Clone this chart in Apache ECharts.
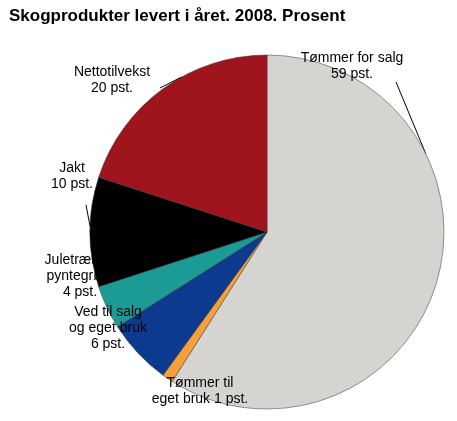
<!DOCTYPE html>
<html><head><meta charset="utf-8">
<script src="https://cdn.jsdelivr.net/npm/echarts@6/dist/echarts.min.js"></script>
<style>html,body{margin:0;padding:0;background:#fff}#c{width:457px;height:421px}</style>
</head><body><div id="c"></div>
<script>
const categories = ["Tømmer for salg\n59 pst.", "Tømmer til\neget bruk 1 pst.", "Ved til salg\nog eget bruk\n6 pst.", "Juletrær og\npyntegrønt\n4 pst.", "Jakt\n10 pst.", "Nettotilvekst\n20 pst."];
const values = [59, 1, 6, 4, 10, 20];
const colors = ["#d5d4d0", "#f5a03a", "#0b3a8e", "#1c9a96", "#000000", "#a0141e"];
const labelPos = [[352,66],[200,391],[108,328],[80,276],[72,176],[112,80]];
const lineEnd = [[396,82],[185,366],[150,308],[122,293],[86,205],[160,88]];
const edgeFrac = [0.3,0.5,0.7,0.5,0.55,0.6];
const C=[267,232], R=177;
const total = values.reduce((a,b)=>a+b,0);
const chart = echarts.init(document.getElementById('c'));
chart.setOption({
  animation:false,
  title:{text:"Skogprodukter levert i året. 2008. Prosent",left:4,top:3,textStyle:{fontFamily:"Liberation Sans",fontSize:17,fontWeight:"bold",color:"#000"}},
  series:[{
    type:"pie",center:C,radius:[0,R],startAngle:90,clockwise:true,avoidLabelOverlap:false,
    data:values.map((v,i)=>({value:v,name:categories[i],itemStyle:{color:colors[i]}})),
    itemStyle:{borderColor:"#333",borderWidth:0.5},
    label:{show:true,position:"outside",color:"#000",fontFamily:"Liberation Sans",fontSize:14,lineHeight:16,align:"center"},
    labelLine:{show:true,length:10,length2:5,lineStyle:{color:"#000",width:1}},
    labelLayout:function(p){
      const i=p.dataIndex;
      let cum=0; for(let k=0;k<i;k++) cum+=values[k];
      const a=(90-(cum+values[i]*edgeFrac[i])/total*360)*Math.PI/180;
      const e=[C[0]+R*Math.cos(a),C[1]-R*Math.sin(a)];
      const q=labelPos[i];
      return {x:q[0],y:q[1],align:"center",verticalAlign:"middle",hideOverlap:false,labelLinePoints:[e,lineEnd[i],lineEnd[i]]};
    }
  }]
});
</script></body></html>
